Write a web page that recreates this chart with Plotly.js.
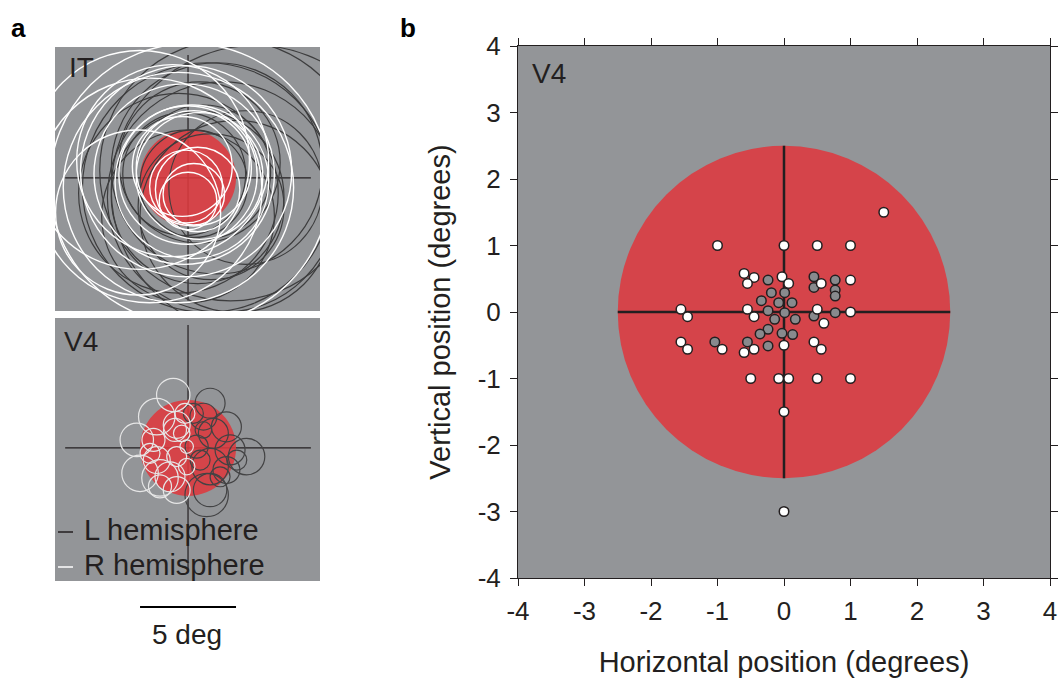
<!DOCTYPE html>
<html><head><meta charset="utf-8">
<script src="https://cdn.plot.ly/plotly-3.0.1.min.js"></script>
<style>html,body{margin:0;padding:0;background:#fff}</style>
</head><body><div id="chart" style="width:1060px;height:678px"></div>
<script>
// ---- Panel b: V4 receptive field centres (degrees) ----
const whiteX = [-1,0,0.5,1,-0.6,-0.45,-0.55,-0.03,0.07,0.56,1,-1.55,-1.45,-0.55,-0.45,0.5,1,0.6,-1.55,-1.45,-0.93,-0.45,-0.6,0,0.45,0.56,-0.5,-0.08,0.07,0.5,1,0,0,1.5];
const whiteY = [1,1,1,1,0.58,0.52,0.43,0.53,0.43,0.43,0.48,0.04,-0.07,0.04,-0.07,0.04,0,-0.17,-0.45,-0.56,-0.56,-0.56,-0.61,-0.5,-0.45,-0.56,-1,-1,-1,-1,-1,-1.5,-3,1.5];
const grayX = [-0.24,0.45,0.45,0.77,0.77,0.77,-0.19,0.01,-0.34,-0.08,0.12,-0.24,0.01,-0.14,0.17,0.45,0.77,-0.24,-0.36,-0.03,0.13,-0.24,-1.04,-0.55];
const grayY = [0.48,0.53,0.37,0.48,0.33,0.24,0.29,0.29,0.17,0.14,0.14,0.02,-0.01,-0.11,-0.11,-0.06,-0.01,-0.26,-0.33,-0.32,-0.34,-0.51,-0.45,-0.45];
const tickVals = [-4,-3,-2,-1,0,1,2,3,4];
const tickText = ['-4','-3','-2','-1','0','1','2','3','4'];
const stimRadius = 2.5;
const crossHalfB = 2.5;
const crossHalfA = 6.4;
const scaleBarDeg = 5;

// ---- Panel a: IT receptive fields (centre x, centre y, radius; degrees) ----
const itRX = [-0.1,-0.2,0.0,0.3,-0.1,-2.6,0.1,-0.5,0.3,0.5,-0.8,-2.0,0.2,0.6,-0.3,0.0,-2.5];
const itRY = [0.35,0.2,0.15,-0.85,-0.45,-1.8,-0.3,-0.5,0.5,-0.6,0.9,-0.65,-0.2,0.1,0.6,-1.2,0.94];
const itRR = [5.5,4.7,3.6,1.6,1.9,4.3,7.3,6.0,3.0,2.2,5.0,5.85,4.0,3.3,2.6,1.5,5.7];
const itLX = [1.0,1.5,0.5,2.5,0.8,2.2,0.3,1.2,-0.5,3.0,0.6,1.8,-0.2,3.5,0.0];
const itLY = [-0.5,0.5,-1.0,-2.0,0.3,0.4,-0.3,-1.5,-0.8,-0.5,0.8,-1.0,0.2,-0.6,-2.0];
const itLR = [6.5,5.5,4.5,5.0,3.5,6.8,2.8,3.8,5.2,4.0,4.2,6.0,3.2,7.5,4.5];

// ---- Panel a: V4 receptive fields ----
const v4RX = [-0.77,-1.63,-2.67,-1.8,-0.68,-0.33,-2.5,-1.63,-0.94,-0.59,-1.46,-1.98,-0.59,-0.07,-0.07,-0.16,-0.59,-1.46];
const v4RY = [2.76,1.63,0.42,0.42,0.94,0.76,-1.32,-0.63,-1.5,-2.19,-2.0,-0.28,-0.45,0.07,-0.97,1.8,1.2,-1.56];
const v4RR = [0.87,0.95,0.87,0.6,0.6,0.43,0.95,0.7,0.78,0.7,0.6,0.52,0.52,0.35,0.43,0.52,0.7,0.95];
const v4LX = [1.15,0.8,0.28,2.0,1.32,3.05,2.19,1.15,2.0,1.15,0.45,0.63,1.67,0.8,2.54,0.97];
const v4LY = [2.33,1.63,1.8,1.1,0.76,-0.45,-0.1,-0.97,-1.15,-2.19,0.07,-0.63,-1.5,0.94,-0.63,-2.45];
const v4LR = [0.78,0.7,0.52,0.78,0.78,0.95,0.78,0.95,0.7,0.87,0.6,0.52,0.52,0.43,0.52,1.13];

const W = 1060, H = 678;
const FONT = 'Liberation Sans, Arial, Helvetica, sans-serif';
const INK = '#231f20';
const RED = '#d5444a';
const BG = '#939598';

const bX = [518/W, 1050/W], bY = [1-578/H, 1-46/H];
const aX = [55/W, 320/W];
const itY = [1-311/H, 1-47/H];
const v4Y = [1-581/H, 1-318/H];
const aXR = [-6.93, 6.875];
const itYR = [-6.93, 6.82];
const v4YR = [-6.93, 6.77];

function circ(cx, cy, r, xr, yr, color, width, layer, fill, opacity) {
  return {type:'circle', xref:xr, yref:yr, x0:cx-r, x1:cx+r, y0:cy-r, y1:cy+r,
    line:{color:color, width:width}, fillcolor: fill || 'rgba(0,0,0,0)', layer: layer || 'above', opacity: opacity==null?1:opacity};
}
function seg(x0,y0,x1,y1,xr,yr,color,width,layer){
  return {type:'line', xref:xr, yref:yr, x0:x0,y0:y0,x1:x1,y1:y1, line:{color:color,width:width}, layer:layer||'above'};
}

const shapes = [];
// panel b
shapes.push(circ(0,0,stimRadius,'x','y',RED,0,'below',RED));
shapes.push(seg(-crossHalfB,0,crossHalfB,0,'x','y',INK,2.5,'below'));
shapes.push(seg(0,-crossHalfB,0,crossHalfB,'x','y',INK,2.5,'below'));
// panel a
[['x2','y2'],['x3','y3']].forEach(([xr,yr])=>{
  shapes.push(seg(-crossHalfA,0,crossHalfA,0,xr,yr,INK,1.2));
  shapes.push(seg(0,-crossHalfA,0,crossHalfA,xr,yr,INK,1.2));
  shapes.push(circ(0,0,stimRadius,xr,yr,'rgba(0,0,0,0)',0,'above','rgb(222,57,62)',0.88));
});
for (let i=0;i<itLX.length;i++) shapes.push(circ(itLX[i],itLY[i],itLR[i],'x2','y2','#3d3d3e',1.2));
for (let i=0;i<itRX.length;i++) shapes.push(circ(itRX[i],itRY[i],itRR[i],'x2','y2','#ffffff',1.4));
for (let i=0;i<v4LX.length;i++) shapes.push(circ(v4LX[i],v4LY[i],v4LR[i],'x3','y3','#434344',1.2));
for (let i=0;i<v4RX.length;i++) shapes.push(circ(v4RX[i],v4RY[i],v4RR[i],'x3','y3','#e6e6e6',1.2));

// legend dashes in V4 panel (paper)
shapes.push({type:'line',xref:'paper',yref:'paper',x0:58/W,x1:73/W,y0:1-532/H,y1:1-532/H,line:{color:INK,width:1.5}});
shapes.push({type:'line',xref:'paper',yref:'paper',x0:58/W,x1:73/W,y0:1-567/H,y1:1-567/H,line:{color:'#ffffff',width:1.5}});

// scale bar, length derived from panel-a axis scale
const pxPerDeg = (aX[1]-aX[0]) / (aXR[1]-aXR[0]);
const zeroPaper = aX[0] + (0 - aXR[0]) * pxPerDeg;
const barY = 1-607/H;
shapes.push({type:'line',xref:'paper',yref:'paper',x0:zeroPaper-scaleBarDeg/2*pxPerDeg,x1:zeroPaper+scaleBarDeg/2*pxPerDeg,y0:barY,y1:barY,line:{color:'#000000',width:2}});

const traces = [
  {x:grayX, y:grayY, type:'scatter', mode:'markers', xaxis:'x', yaxis:'y', hoverinfo:'skip',
   marker:{size:9.5, color:'#888a8d', line:{color:INK, width:1.5}}, cliponaxis:false},
  {x:whiteX, y:whiteY, type:'scatter', mode:'markers', xaxis:'x', yaxis:'y', hoverinfo:'skip',
   marker:{size:9.5, color:'#ffffff', line:{color:INK, width:1.5}}, cliponaxis:false},
  {x:[0], y:[0], type:'scatter', mode:'markers', xaxis:'x2', yaxis:'y2', hoverinfo:'skip', marker:{opacity:0}},
  {x:[0], y:[0], type:'scatter', mode:'markers', xaxis:'x3', yaxis:'y3', hoverinfo:'skip', marker:{opacity:0}}
];

const hidden = {showgrid:false, zeroline:false, showline:false, ticks:'', showticklabels:false, fixedrange:true};
const layout = {
  width:W, height:H, margin:{l:0,r:0,t:0,b:0,pad:0},
  paper_bgcolor:'#ffffff', plot_bgcolor:BG, showlegend:false,
  font:{family:FONT, color:INK},
  xaxis:{domain:bX, anchor:'y', range:[-4,4], tickvals:tickVals, ticktext:tickText,
    ticks:'outside', ticklen:7, tickwidth:1, tickcolor:INK, showline:true, linecolor:INK, linewidth:1,
    mirror:'ticks', showgrid:false, zeroline:false, tickfont:{size:26, color:INK}, ticklabelstandoff:3,
    title:{text:'Horizontal position (degrees)', font:{size:29, color:INK}, standoff:26}},
  yaxis:{domain:bY, anchor:'x', range:[-4,4], tickvals:tickVals, ticktext:tickText,
    ticks:'outside', ticklen:7, tickwidth:1, tickcolor:INK, showline:true, linecolor:INK, linewidth:1,
    mirror:'ticks', showgrid:false, zeroline:false, tickfont:{size:26, color:INK}, ticklabelstandoff:4,
    title:{text:'Vertical position (degrees)', font:{size:29, color:INK}, standoff:18}},
  xaxis2:Object.assign({domain:aX, anchor:'y2', range:aXR}, hidden),
  yaxis2:Object.assign({domain:itY, anchor:'x2', range:itYR}, hidden),
  xaxis3:Object.assign({domain:aX, anchor:'y3', range:aXR}, hidden),
  yaxis3:Object.assign({domain:v4Y, anchor:'x3', range:v4YR}, hidden),
  shapes:shapes,
  annotations:[
    {text:'<b>a</b>', xref:'paper', yref:'paper', x:18/W, y:1-28/H, xanchor:'center', yanchor:'middle', showarrow:false, font:{size:26, color:'#000'}},
    {text:'<b>b</b>', xref:'paper', yref:'paper', x:408/W, y:1-28/H, xanchor:'center', yanchor:'middle', showarrow:false, font:{size:26, color:'#000'}},
    {text:'V4', xref:'paper', yref:'paper', x:530/W, y:1-74/H, xanchor:'left', yanchor:'middle', showarrow:false, font:{size:28, color:INK}},
    {text:'IT', xref:'paper', yref:'paper', x:67/W, y:1-68/H, xanchor:'left', yanchor:'middle', showarrow:false, font:{size:28, color:INK}},
    {text:'V4', xref:'paper', yref:'paper', x:62/W, y:1-341/H, xanchor:'left', yanchor:'middle', showarrow:false, font:{size:28, color:INK}},
    {text:'L hemisphere', xref:'paper', yref:'paper', x:82/W, y:1-530/H, xanchor:'left', yanchor:'middle', showarrow:false, font:{size:29, color:INK}},
    {text:'R hemisphere', xref:'paper', yref:'paper', x:82/W, y:1-565/H, xanchor:'left', yanchor:'middle', showarrow:false, font:{size:29, color:INK}},
    {text:'5 deg', xref:'paper', yref:'paper', x:187/W, y:1-634/H, xanchor:'center', yanchor:'middle', showarrow:false, font:{size:28, color:INK}}
  ]
};
Plotly.newPlot('chart', traces, layout, {staticPlot:true, displayModeBar:false});
</script></body></html>
